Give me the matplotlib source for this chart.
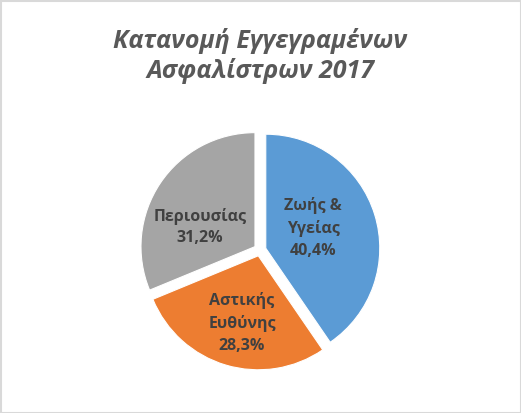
import matplotlib
matplotlib.use('Agg')
import matplotlib.pyplot as plt
from matplotlib.patches import Rectangle

plt.rcParams['font.family'] = ['Open Sans', 'DejaVu Sans']

title = 'Κατανομή Εγγεγραμένων\nΑσφαλίστρων 2017'
categories = ['Ζωής &\nΥγείας', 'Αστικής\nΕυθύνης', 'Περιουσίας']
shares = [40.4, 28.3, 31.2]
colors = ['#5B9BD5', '#ED7D31', '#A5A5A5']

W, H = 521, 413
cx, cy, R = 260, 250, 114

fig = plt.figure(figsize=(W / 100, H / 100), dpi=100)
ax = fig.add_axes([0, 0, 1, 1])
ax.pie(shares, colors=colors, startangle=90, counterclock=False,
       explode=[0.053] * 3, radius=1,
       wedgeprops=dict(edgecolor='white', linewidth=0.8))
ax.set_xlim(-cx / R, (W - cx) / R)
ax.set_ylim(-(H - cy) / R, cy / R)
ax.set_aspect('equal')
ax.axis('off')

# label positions inside slices (pixel offsets from centre)
label_pos = [(53, 22), (-18, -73), (-60, 23)]
for name, val, (dx, dy) in zip(categories, shares, label_pos):
    txt = name + '\n' + ('%.1f' % val).replace('.', ',') + '%'
    ax.text(dx / R, dy / R, txt, ha='center', va='center', fontsize=11.5,
            fontweight='bold', color='#404040', linespacing=1.45)

fig.text(0.5, 1 - 56 / H, title, ha='center', va='center', fontsize=18,
         style='italic', fontweight='bold', color='#595959',
         linespacing=1.2)

fig.patches.append(Rectangle((0.5 / W, 0.5 / H), 1 - 1 / W, 1 - 1 / H,
                             transform=fig.transFigure, fill=False,
                             edgecolor='#D9D9D9', linewidth=1.5))

fig.savefig('out.png', dpi=100)
